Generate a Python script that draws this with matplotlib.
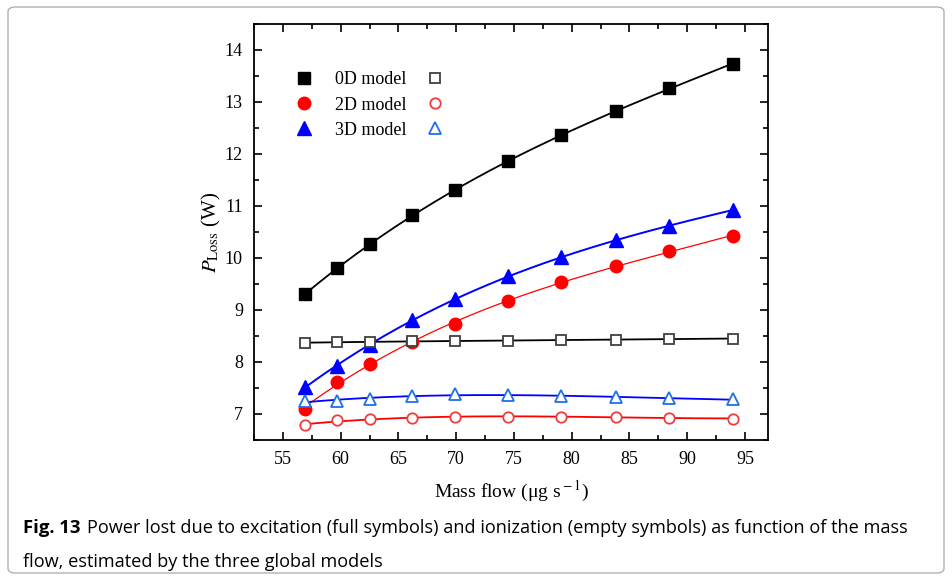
import numpy as np
import matplotlib
matplotlib.use('Agg')
import matplotlib.pyplot as plt
from matplotlib.patches import FancyBboxPatch
from matplotlib.ticker import MultipleLocator


# Data
massFlow = [56.9, 59.7, 62.5, 66.2, 69.9, 74.5, 79.1, 83.8, 88.4, 94.0]

excit0D = [9.30, 9.80, 10.27, 10.82, 11.30, 11.86, 12.36, 12.82, 13.26, 13.74]
excit2D = [7.10, 7.61, 7.97, 8.39, 8.74, 9.17, 9.53, 9.84, 10.13, 10.43]
excit3D = [7.52, 7.93, 8.32, 8.80, 9.22, 9.65, 10.01, 10.34, 10.61, 10.93]

ioniz0D = [8.37, 8.38, 8.39, 8.40, 8.40, 8.41, 8.42, 8.43, 8.44, 8.45]
ioniz2D = [6.78, 6.89, 6.90, 6.92, 6.94, 6.95, 6.95, 6.94, 6.93, 6.91]
ioniz3D = [7.25, 7.25, 7.29, 7.35, 7.38, 7.37, 7.35, 7.32, 7.30, 7.28]

modelLabels = ['0D model', '2D model', '3D model']

plt.rcParams['mathtext.fontset'] = 'stix'
serif = ['Liberation Serif', 'DejaVu Serif']

fig = plt.figure(figsize=(9.52, 5.8), dpi=100)
ax = fig.add_axes([254 / 952, 1 - 440 / 580, 514 / 952, 416 / 580])

# Rounded frame round the whole figure
frame = FancyBboxPatch((8 / 952, 7 / 580), 936 / 952, 566 / 580,
                       boxstyle='round,pad=0,rounding_size=0.008',
                       transform=fig.transFigure, facecolor='none',
                       edgecolor='#b0b0b0', linewidth=1.0, zorder=-1)
fig.patches.append(frame)


def smoothLine(x, y, deg=3):
    # Smooth fitted curve like the original (drawn from the data)
    coef = np.polyfit(x, y, deg)
    xs = np.linspace(min(x), max(x), 200)
    return xs, np.polyval(coef, xs)


series = [
    # values, line colour, marker, marker colour, filled, line width, size
    (excit0D, 'black', 's', 'black', True, 1.3, 8),
    (excit2D, '#ff0000', 'o', '#ff0000', True, 0.9, 9),
    (excit3D, '#0000ff', '^', '#0000ff', True, 1.4, 9.5),
    (ioniz0D, 'black', 's', '#404040', False, 1.3, 7),
    (ioniz2D, '#ff0000', 'o', '#f03c3c', False, 1.3, 7.5),
    (ioniz3D, '#0000ff', '^', '#1f6fe8', False, 1.3, 8),
]

handles = []
for vals, lc, mk, mc, filled, lw, ms in series:
    xs, ys = smoothLine(massFlow, vals)
    ax.plot(xs, ys, color=lc, linewidth=lw, zorder=2)
    if filled:
        h, = ax.plot(massFlow, vals, linestyle='none', marker=mk, markersize=ms,
                     markerfacecolor=mc, markeredgecolor=mc, zorder=3)
    else:
        h, = ax.plot(massFlow, vals, linestyle='none', marker=mk, markersize=ms,
                     markerfacecolor='white', markeredgecolor=mc,
                     markeredgewidth=1.3, zorder=3)
    handles.append(h)

ax.legend(handles, modelLabels + ['', '', ''], ncol=2, loc='upper left',
          bbox_to_anchor=(0.045, 0.925), frameon=False, handlelength=1.2,
          handletextpad=1.1, columnspacing=1.0, labelspacing=0.45,
          prop={'family': serif, 'size': 13})

# Axes limits & ticks
ax.set_xlim(52.5, 97)
ax.set_ylim(6.5, 14.5)
ax.xaxis.set_major_locator(MultipleLocator(5))
ax.xaxis.set_minor_locator(MultipleLocator(2.5))
ax.yaxis.set_major_locator(MultipleLocator(1))
ax.yaxis.set_minor_locator(MultipleLocator(0.5))
ax.tick_params(which='both', direction='in', top=True, right=True, width=1.2)
ax.tick_params(which='major', length=6, labelsize=13, pad=8)
ax.tick_params(which='minor', length=3.5)
for lab in ax.get_xticklabels() + ax.get_yticklabels():
    lab.set_family(serif)
for spine in ax.spines.values():
    spine.set_linewidth(1.3)

ax.set_xlabel('Mass flow (\u03bcg s$^{\\rm -1}$)', family=serif, fontsize=14, labelpad=8)
ax.set_ylabel('$P_{\\rm Loss}$ (W)', family=serif, fontsize=15, labelpad=1)

# Caption
capFont = ['Open Sans', 'DejaVu Sans']
fig.text(23 / 952, 1 - 528 / 580, 'Fig. 13', family=capFont, fontsize=13.3,
         fontweight='bold', va='center')
fig.text(87 / 952, 1 - 528 / 580,
         'Power lost due to excitation (full symbols) and ionization (empty symbols) as function of the mass',
         family=capFont, fontsize=13.1, va='center')
fig.text(23 / 952, 1 - 562 / 580, 'flow, estimated by the three global models',
         family=capFont, fontsize=13.1, va='center')

fig.savefig('out.png', dpi=100)
